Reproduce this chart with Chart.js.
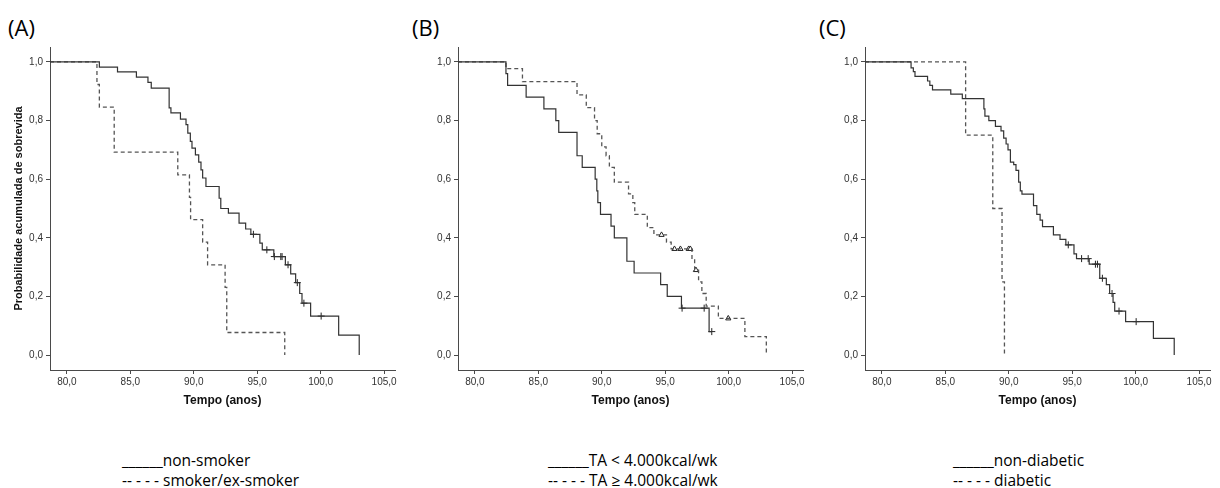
<!DOCTYPE html>
<html>
<head>
<meta charset="utf-8">
<script src="https://cdn.jsdelivr.net/npm/chart.js@4/dist/chart.umd.min.js"></script>
<style>
  body { margin: 0; background: #fff; }
  #wrap { position: relative; width: 1220px; height: 488px; overflow: hidden; }
  canvas { position: absolute; top: 0; }
  .panel-label { position: absolute; top: 13px; font: 22px "Open Sans", sans-serif; color: #000; line-height: 28px; }
  .caption { position: absolute; top: 450px; font: 15.5px "Open Sans", sans-serif; color: #000; line-height: 20px; white-space: pre; }
</style>
</head>
<body>
<div id="wrap">
  <div class="panel-label" style="left:8px">(A)</div>
  <div class="panel-label" style="left:412px">(B)</div>
  <div class="panel-label" style="left:819px">(C)</div>
  <canvas id="chartA" width="400" height="420" style="left:0px"></canvas>
  <canvas id="chartB" width="400" height="420" style="left:408px"></canvas>
  <canvas id="chartC" width="400" height="420" style="left:815px"></canvas>
  <div class="caption" style="left:122px">______non-smoker<br>-- - - - smoker/ex-smoker</div>
  <div class="caption" style="left:548px">______TA &lt; 4.000kcal/wk<br>-- - - - TA ≥ 4.000kcal/wk</div>
  <div class="caption" style="left:953px">______non-diabetic<br>-- - - - diabetic</div>
</div>
<script>
// Axis ranges and ticks (shared by all three panels)
const X_MIN = 78.67
const X_MAX = 105.86
const Y_MIN = -0.051
const Y_MAX = 1.051
const xTickValues = [80, 85, 90, 95, 100, 105]
const xTickLabels = ["80,0", "85,0", "90,0", "95,0", "100,0", "105,0"]
const yTickValues = [0, 0.2, 0.4, 0.6, 0.8, 1.0]
const yTickLabels = ["0,0", "0,2", "0,4", "0,6", "0,8", "1,0"]

// (A) non-smoker
const nonSmokerTime = [82.56, 83.99, 85.48, 86.39, 86.65, 88.06, 88.2, 88.95, 89.39, 89.53, 89.73, 89.86, 90.13, 90.39, 90.57, 90.7, 90.96, 92.0, 92.13, 92.73, 93.57, 94.09, 94.5, 95.21, 95.4, 96.31, 97.22, 97.64, 98.03, 98.35, 98.53, 99.21, 101.42, 103.04]
const nonSmokerSurv = [0.982, 0.966, 0.948, 0.93, 0.911, 0.843, 0.826, 0.805, 0.786, 0.757, 0.729, 0.706, 0.683, 0.658, 0.632, 0.604, 0.575, 0.535, 0.5, 0.484, 0.45, 0.43, 0.412, 0.382, 0.359, 0.336, 0.308, 0.277, 0.247, 0.21, 0.177, 0.133, 0.068, 0.0]
const nonSmokerCensorTime = [94.7, 95.76, 96.35, 96.86, 96.96, 97.43, 98.16, 98.68, 100.04]
const nonSmokerCensorSurv = [0.412, 0.359, 0.336, 0.336, 0.336, 0.308, 0.247, 0.177, 0.133]

// (A) smoker/ex-smoker
const smokerTime = [82.37, 82.56, 83.73, 88.74, 89.66, 89.75, 90.7, 91.09, 92.47, 92.6, 97.17]
const smokerSurv = [0.923, 0.846, 0.692, 0.615, 0.538, 0.462, 0.385, 0.308, 0.231, 0.077, 0.0]

// (B) TA < 4.000kcal/wk
const lowTaTime = [82.45, 82.58, 84.04, 85.44, 86.38, 86.61, 88.05, 88.46, 89.48, 89.61, 89.69, 89.9, 90.73, 90.99, 91.98, 92.55, 94.64, 95.16, 96.28, 98.46, 98.67]
const lowTaSurv = [0.96, 0.92, 0.88, 0.84, 0.8, 0.76, 0.68, 0.64, 0.6, 0.56, 0.52, 0.48, 0.44, 0.4, 0.32, 0.28, 0.24, 0.2, 0.16, 0.08, 0.08]
const lowTaCensorTime = [96.33, 98.07, 98.67]
const lowTaCensorSurv = [0.16, 0.16, 0.08]

// (B) TA >= 4.000kcal/wk
const highTaTime = [82.45, 83.75, 88.05, 88.78, 89.43, 89.64, 90.0, 90.34, 90.6, 90.99, 92.11, 92.45, 92.6, 93.59, 94.11, 95.1, 95.47, 97.11, 97.32, 97.63, 97.89, 98.23, 99.19, 101.28, 102.97]
const highTaSurv = [0.977, 0.933, 0.888, 0.844, 0.8, 0.755, 0.71, 0.68, 0.64, 0.59, 0.55, 0.52, 0.48, 0.435, 0.41, 0.385, 0.362, 0.33, 0.29, 0.25, 0.21, 0.167, 0.125, 0.063, 0.0]
const highTaCensorTime = [94.71, 95.73, 96.2, 96.85, 96.98, 97.42, 99.97]
const highTaCensorSurv = [0.41, 0.362, 0.362, 0.362, 0.362, 0.29, 0.125]

// (C) non-diabetic
const nonDiabeticTime = [82.3, 82.48, 82.61, 83.6, 83.78, 83.99, 85.43, 86.34, 88.04, 88.12, 88.43, 88.95, 89.39, 89.6, 89.79, 89.94, 90.13, 90.39, 90.57, 90.78, 90.91, 91.04, 91.95, 92.21, 92.47, 92.66, 93.52, 94.04, 94.5, 95.14, 95.34, 96.34, 97.17, 97.69, 97.95, 98.22, 98.35, 99.21, 101.4, 103.04]
const nonDiabeticSurv = [0.98, 0.967, 0.951, 0.935, 0.92, 0.905, 0.89, 0.875, 0.84, 0.815, 0.8, 0.78, 0.765, 0.74, 0.72, 0.7, 0.658, 0.65, 0.63, 0.59, 0.56, 0.549, 0.51, 0.48, 0.46, 0.438, 0.41, 0.395, 0.376, 0.345, 0.329, 0.31, 0.262, 0.24, 0.21, 0.18, 0.15, 0.114, 0.057, 0.0]
const nonDiabeticCensorTime = [94.69, 95.74, 96.26, 96.83, 96.99, 97.38, 98.14, 98.69, 100.04]
const nonDiabeticCensorSurv = [0.376, 0.329, 0.329, 0.31, 0.31, 0.262, 0.21, 0.15, 0.114]

// (C) diabetic
const diabeticTime = [86.6, 88.74, 89.47, 89.66]
const diabeticSurv = [0.75, 0.5, 0.25, 0.0]

const axisColor = "#4a4a4a"
const tickFont = { family: "Arial, 'Liberation Sans', sans-serif", size: 10 }
const titleFont = { family: "Arial, 'Liberation Sans', sans-serif", size: 12, weight: "bold" }

// Kaplan-Meier curve: starts at 1.0 on the y axis, then steps down at each event
function curvePoints(times, surv) {
  return [{ x: X_MIN, y: 1 }].concat(times.map((t, i) => ({ x: t, y: surv[i] })))
}

function censorPoints(times, surv) {
  return times.map((t, i) => ({ x: t, y: surv[i] }))
}

function stepLine(times, surv, dashed) {
  return {
    type: "line",
    data: curvePoints(times, surv),
    // horizontal at the previous value, then drop at the event time
    stepped: "before",
    borderColor: dashed ? "#555" : "#333",
    borderWidth: dashed ? 1.3 : 1.2,
    borderDash: dashed ? [4, 3] : [],
    pointRadius: 0,
    fill: false,
  }
}

function censorMarks(times, surv, style) {
  return {
    type: "scatter",
    data: censorPoints(times, surv),
    showLine: false,
    pointStyle: style,
    pointRadius: style === "triangle" ? 3 : 3.5,
    borderColor: "#222",
    backgroundColor: "#fff",
    borderWidth: 1,
  }
}

function makeChart(canvasId, datasets, showYTitle) {
  const config = {
    type: "line",
    data: { datasets: datasets },
    options: {
      responsive: false,
      animation: false,
      devicePixelRatio: 1,
      layout: { padding: { left: 0, top: 47, right: 2, bottom: 0 } },
      plugins: { legend: { display: false }, tooltip: { enabled: false } },
      scales: {
        x: {
          type: "linear",
          min: X_MIN,
          max: X_MAX,
          afterBuildTicks: (scale) => { scale.ticks = xTickValues.map(v => ({ value: v })) },
          afterFit: (scale) => { scale.height = 50 },
          grid: { drawOnChartArea: false, drawTicks: true, tickLength: 4, color: axisColor },
          border: { display: true, color: axisColor, width: 1 },
          ticks: {
            color: "#333",
            font: tickFont,
            padding: 2,
            maxRotation: 0,
            callback: (value, index) => xTickLabels[index],
          },
          title: {
            display: true,
            text: "Tempo (anos)",
            color: "#111",
            font: titleFont,
            padding: { top: 0, bottom: 12 },
          },
        },
        y: {
          type: "linear",
          min: Y_MIN,
          max: Y_MAX,
          afterBuildTicks: (scale) => { scale.ticks = yTickValues.map(v => ({ value: v })) },
          afterFit: (scale) => { scale.width = 50 },
          grid: { drawOnChartArea: false, drawTicks: true, tickLength: 4, color: axisColor },
          border: { display: true, color: axisColor, width: 1 },
          ticks: {
            color: "#333",
            font: tickFont,
            padding: 3,
            callback: (value, index) => yTickLabels[index],
          },
          title: {
            display: showYTitle,
            text: "Probabilidade acumulada de sobrevida",
            color: "#111",
            font: { family: "Arial, 'Liberation Sans', sans-serif", size: 11, weight: "bold" },
            padding: { top: 12, bottom: 0 },
          },
        },
      },
    },
  }
  return new Chart(document.getElementById(canvasId), config)
}

makeChart("chartA", [
  stepLine(nonSmokerTime, nonSmokerSurv, false),
  stepLine(smokerTime, smokerSurv, true),
  censorMarks(nonSmokerCensorTime, nonSmokerCensorSurv, "cross"),
], true)

makeChart("chartB", [
  stepLine(lowTaTime, lowTaSurv, false),
  stepLine(highTaTime, highTaSurv, true),
  censorMarks(lowTaCensorTime, lowTaCensorSurv, "cross"),
  censorMarks(highTaCensorTime, highTaCensorSurv, "triangle"),
], false)

makeChart("chartC", [
  stepLine(nonDiabeticTime, nonDiabeticSurv, false),
  stepLine(diabeticTime, diabeticSurv, true),
  censorMarks(nonDiabeticCensorTime, nonDiabeticCensorSurv, "cross"),
], false)
</script>
</body>
</html>
